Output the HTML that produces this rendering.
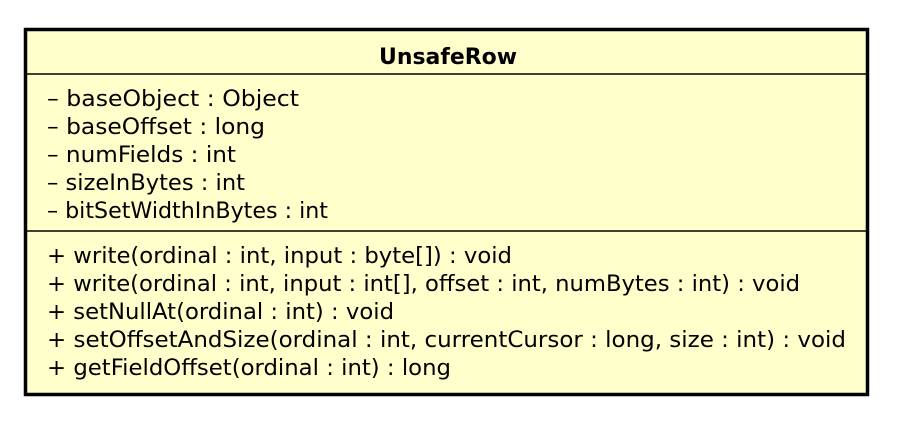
<!DOCTYPE html>
<html><head><meta charset="utf-8"><style>
html,body{margin:0;padding:0;background:#fff;}
svg{display:block;}
text{font-family:"DejaVu Sans","Liberation Sans",sans-serif;font-size:22px;fill:#000;}
</style></head><body>
<svg width="910" height="426" viewBox="0 0 910 426" xmlns="http://www.w3.org/2000/svg">
<rect x="25.5" y="29.5" width="842" height="365" fill="#ffffcc" stroke="#000" stroke-width="3.5"/>
<line x1="27" y1="74" x2="866" y2="74" stroke="#000" stroke-width="1.5"/>
<line x1="27" y1="231" x2="866" y2="231" stroke="#000" stroke-width="1.5"/>
<text x="379" y="64" font-weight="bold" textLength="138" lengthAdjust="spacingAndGlyphs">UnsafeRow</text>
<text x="47" y="106" textLength="252" lengthAdjust="spacingAndGlyphs">– baseObject : Object</text>
<text x="47" y="134" textLength="218" lengthAdjust="spacingAndGlyphs">– baseOffset : long</text>
<text x="47" y="162" textLength="189" lengthAdjust="spacingAndGlyphs">– numFields : int</text>
<text x="47" y="190" textLength="198" lengthAdjust="spacingAndGlyphs">– sizeInBytes : int</text>
<text x="47" y="218" textLength="281" lengthAdjust="spacingAndGlyphs">– bitSetWidthInBytes : int</text>
<text x="47" y="263" textLength="465" lengthAdjust="spacingAndGlyphs">+ write(ordinal : int, input : byte[]) : void</text>
<text x="47" y="291" textLength="753" lengthAdjust="spacingAndGlyphs">+ write(ordinal : int, input : int[], offset : int, numBytes : int) : void</text>
<text x="47" y="319" textLength="347" lengthAdjust="spacingAndGlyphs">+ setNullAt(ordinal : int) : void</text>
<text x="47" y="347" textLength="799" lengthAdjust="spacingAndGlyphs">+ setOffsetAndSize(ordinal : int, currentCursor : long, size : int) : void</text>
<text x="47" y="375" textLength="404" lengthAdjust="spacingAndGlyphs">+ getFieldOffset(ordinal : int) : long</text>
</svg>
</body></html>
